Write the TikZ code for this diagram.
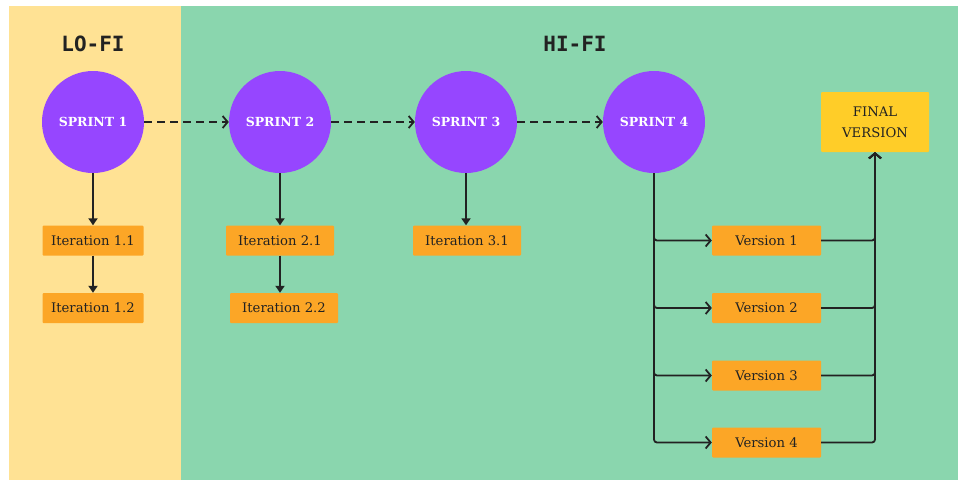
\documentclass[tikz,border=0pt]{standalone}
\usepackage{fontspec}
\setmainfont{DejaVu Serif}
\newfontfamily\titlefont{DejaVu Sans Mono}
\usetikzlibrary{arrows.meta}
\definecolor{lofibg}{HTML}{FFE294}
\definecolor{hifibg}{HTML}{8AD6AE}
\definecolor{sprintfill}{HTML}{9646FF}
\definecolor{stepfill}{HTML}{FCA626}
\definecolor{finalfill}{HTML}{FFCD28}
\definecolor{ink}{HTML}{222222}
\tikzset{
  sprint/.style={circle, fill=sprintfill, minimum size=102pt, inner sep=0pt,
    text=white, font=\bfseries\fontsize{12.5}{15}\selectfont},
  stepbox/.style={rectangle, fill=stepfill, rounded corners=1pt, minimum height=30pt,
    inner sep=0pt, text=ink, font=\fontsize{13.2}{16}\selectfont},
  finalbox/.style={rectangle, fill=finalfill, rounded corners=1pt, minimum width=108pt,
    minimum height=60pt, inner sep=0pt, text=ink, align=center,
    font=\fontsize{13.2}{21}\selectfont},
  title/.style={text=ink, font=\titlefont\bfseries\fontsize{21}{25}\selectfont},
  down/.style={draw=ink, line width=2pt, -{Triangle[length=7pt,width=9pt]}},
  flow/.style={draw=ink, line width=1.8pt, -{Straight Barb[length=5pt,width=12pt]}},
  handoff/.style={flow, dash pattern=on 8pt off 5pt},
}
\begin{document}
\begin{tikzpicture}[x=1pt,y=-1pt]
  % page and the two phase panels
  \fill[white] (0,0) rectangle (958,480);
  \fill[lofibg] (9,6) rectangle (181,480);
  \fill[hifibg] (181,6) rectangle (958,480);
  \useasboundingbox (0,0) rectangle (958,480);

  \node[title] (lofi) at (93,44) {LO-FI};
  \node[title] (hifi) at (575,44) {HI-FI};

  % sprints
  \node[sprint] (s1) at (93,122) {SPRINT 1};
  \node[sprint] (s2) at (280,122) {SPRINT 2};
  \node[sprint] (s3) at (466,122) {SPRINT 3};
  \node[sprint] (s4) at (654,122) {SPRINT 4};

  % iterations
  \node[stepbox, minimum width=101pt] (i11) at (93,240.5) {Iteration 1.1};
  \node[stepbox, minimum width=101pt] (i12) at (93,308) {Iteration 1.2};
  \node[stepbox, minimum width=108pt] (i21) at (280,240.5) {Iteration 2.1};
  \node[stepbox, minimum width=108pt] (i22) at (284,308) {Iteration 2.2};
  \node[stepbox, minimum width=108pt] (i31) at (467,240.5) {Iteration 3.1};

  % versions and the final result
  \node[stepbox, minimum width=109pt] (v1) at (766.5,240.5) {Version 1};
  \node[stepbox, minimum width=109pt] (v2) at (766.5,308) {Version 2};
  \node[stepbox, minimum width=109pt] (v3) at (766.5,375.5) {Version 3};
  \node[stepbox, minimum width=109pt] (v4) at (766.5,442.5) {Version 4};
  \node[finalbox] (fin) at (875,122) {FINAL\\VERSION};

  % hand-offs between sprints
  \draw[handoff] (s1.east) -- (s2.west);
  \draw[handoff] (s2.east) -- (s3.west);
  \draw[handoff] (s3.east) -- (s4.west);

  % sprint to iteration
  \draw[down] (s1.south) -- (i11.north);
  \draw[down] (i11.south) -- (i12.north);
  \draw[down] (s2.south) -- (i21.north);
  \draw[down] (i21.south) -- (i21.south |- i22.north);
  \draw[down] (s3.south) -- (s3.south |- i31.north);

  % sprint 4 fans out into versions, which merge into the final version
  \foreach \v in {v1,v2,v3,v4}{
    \draw[flow, rounded corners=3pt] (s4.south) -- (s4.south |- \v.west) -- (\v.west);
    \draw[flow, rounded corners=3pt] (\v.east) -- (fin.south |- \v.east) -- (fin.south);
  }
\end{tikzpicture}
\end{document}
